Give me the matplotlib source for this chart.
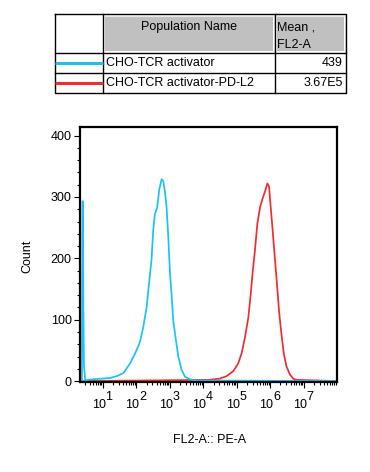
import numpy as np
import matplotlib
matplotlib.use('Agg')
import matplotlib.pyplot as plt
from matplotlib.patches import Rectangle
from matplotlib.ticker import LogLocator, NullFormatter, MultipleLocator

plt.rcParams['font.family'] = ['Liberation Sans', 'DejaVu Sans']

# --- data (x in log10 units of FL2-A, y = count) ---
blue_log = [0.37, 0.385, 0.40, 0.415, 0.43, 0.47, 0.55, 0.71, 1.21, 1.41, 1.61, 1.81,
            1.96, 2.10, 2.20, 2.30, 2.40, 2.45, 2.50, 2.55, 2.62, 2.68, 2.75, 2.80,
            2.85, 2.90, 2.95, 3.00, 3.05, 3.10, 3.18, 3.25, 3.35, 3.45, 3.60, 3.75, 8.0]
blue_cnt = [0, 293, 293, 119, 25, 1, 2, 3, 5, 8, 13, 29,
            45, 63, 87, 119, 172, 198, 246, 272, 283, 312, 329, 326,
            309, 283, 235, 177, 140, 98, 66, 40, 18, 7, 3, 1, 0]

red_log = [0.31, 4.14, 4.49, 4.69, 4.89, 5.04, 5.14, 5.24, 5.34, 5.41, 5.47, 5.54,
           5.61, 5.69, 5.77, 5.84, 5.91, 5.96, 6.01, 6.06, 6.13, 6.20, 6.26,
           6.33, 6.40, 6.48, 6.58, 6.68, 6.78, 8.0]
red_cnt = [0, 2, 4, 8, 16, 29, 45, 71, 103, 140, 177, 214,
           256, 283, 298, 309, 322, 317, 283, 251, 203, 156, 113,
           77, 45, 24, 11, 4, 2, 0]

pop_names = ['CHO-TCR activator', 'CHO-TCR activator-PD-L2']
pop_means = ['439', '3.67E5']
pop_colors = ['#19c3f5', '#f22c2c']
decades = [1, 2, 3, 4, 5, 6, 7]
y_ticks = [0, 100, 200, 300, 400]

W, H = 370, 472
fig = plt.figure(figsize=(W / 100, H / 100), dpi=100)

# --- histogram axes ---
ax = fig.add_axes([80 / W, 1 - 382 / H, 257 / W, 255 / H])
ax.plot(10 ** np.array(red_log), red_cnt, color=pop_colors[1], lw=1.25)
ax.plot(10 ** np.array(blue_log), blue_cnt, color=pop_colors[0], lw=1.25)
ax.set_xscale('log')
ax.set_xlim(10 ** 0.313, 10 ** 7.99)
ax.set_ylim(-1.5, 414)

ax.xaxis.set_major_locator(LogLocator(base=10, numticks=20))
ax.xaxis.set_minor_locator(LogLocator(base=10, subs=np.arange(2, 10), numticks=20))
ax.xaxis.set_major_formatter(NullFormatter())
ax.xaxis.set_minor_formatter(NullFormatter())
ax.set_yticks(y_ticks)
ax.yaxis.set_minor_locator(MultipleLocator(20))
ax.tick_params(axis='both', which='major', direction='out', length=4, width=0.8,
               labelsize=9, colors='black')
ax.tick_params(axis='both', which='minor', direction='out', length=2.5, width=0.8)
ax.tick_params(axis='y', pad=2)
for s in ax.spines.values():
    s.set_linewidth(1.6)

# exponent-style tick labels
for d in decades:
    ax.annotate('10', xy=(10 ** d, 0), xycoords=('data', 'axes fraction'),
                xytext=(-4, -23.5), textcoords='offset pixels',
                ha='center', va='center', fontsize=9)
    ax.annotate(str(d), xy=(10 ** d, 0), xycoords=('data', 'axes fraction'),
                xytext=(6, -15), textcoords='offset pixels',
                ha='center', va='center', fontsize=9)

fig.text(27 / W, 1 - 256 / H, 'Count', rotation=90, ha='center', va='center', fontsize=9)
fig.text(210 / W, 1 - 440 / H, 'FL2-A:: PE-A', ha='center', va='center', fontsize=9)

# --- legend table (pixel coordinates) ---
tab = fig.add_axes([0, 0, 1, 1])
tab.set_xlim(0, W)
tab.set_ylim(H, 0)
tab.axis('off')

x0, x1, x2, x3 = 55, 103, 275, 346
y0, y1, y2, y3 = 14, 53, 73, 93
for xa, xb in [(x1, x2), (x2, x3)]:
    tab.add_patch(Rectangle((xa + 2, y0 + 2), xb - xa - 4, y1 - y0 - 4,
                            facecolor='#c0c0c0', edgecolor='none'))
    tab.plot([xa + 1.5, xb - 1.5, xb - 1.5], [y0 + 1.5, y0 + 1.5, y1 - 1.5],
             color='#e8e8e8', lw=0.8)
lw = 1.0
tab.plot([x0, x3, x3, x0, x0], [y0, y0, y3, y3, y0], color='black', lw=lw)
for xv in [x1, x2]:
    tab.plot([xv, xv], [y0, y3], color='black', lw=lw)
for yv in [y1, y2]:
    tab.plot([x0, x3], [yv, yv], color='black', lw=lw)

tab.text((x1 + x2) / 2, 27, 'Population Name', ha='center', va='center', fontsize=9)
tab.text(x2 + 2, 27, 'Mean ,', ha='left', va='center', fontsize=9)
tab.text(x2 + 2, 45, 'FL2-A', ha='left', va='center', fontsize=9)

row_mid = [63, 83]
for name, mean, col, ym in zip(pop_names, pop_means, pop_colors, row_mid):
    tab.plot([x0, x1], [ym, ym], color=col, lw=2.2, solid_capstyle='butt')
    tab.text(x1 + 3, ym, name, ha='left', va='center', fontsize=9)
    tab.text(x3 - 3, ym, mean, ha='right', va='center', fontsize=9)

fig.savefig('out.png', dpi=100)
